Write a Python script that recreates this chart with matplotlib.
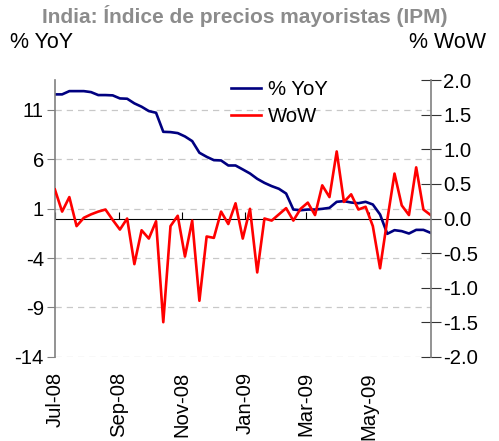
import matplotlib
matplotlib.use("Agg")
import matplotlib.pyplot as plt
import matplotlib.dates as mdates
from matplotlib.lines import Line2D
import pandas as pd

plt.rcParams["font.family"] = ["Liberation Sans", "DejaVu Sans"]
plt.rcParams["axes.unicode_minus"] = False

# weekly observations, Jul-08 .. Jul-09
dates = pd.date_range("2008-07-05", periods=53, freq="7D")

yoy = [12.57, 12.57, 12.9, 12.9, 12.9, 12.8, 12.5, 12.5, 12.47, 12.16,
       12.13, 11.66, 11.32, 10.88, 10.71, 8.78, 8.75, 8.65, 8.31, 7.84,
       6.66, 6.25, 5.91, 5.88, 5.37, 5.37, 4.97, 4.56, 4.02, 3.61,
       3.28, 3.01, 2.53, 0.91, 0.84, 0.91, 0.91, 0.98, 1.08, 1.69,
       1.76, 1.62, 1.55, 1.69, 1.42, 0.41, -1.55, -1.18, -1.28, -1.52,
       -1.15, -1.15, -1.45]

wow = [0.42, 0.10, 0.31, -0.11, 0.01, 0.06, 0.10, 0.13, -0.02, -0.16,
       0.00, -0.66, -0.17, -0.29, -0.04, -1.50, -0.11, 0.04, -0.55, -0.03,
       -1.19, -0.26, -0.28, 0.10, -0.08, 0.22, -0.29, 0.14, -0.78, 0.00,
       -0.03, 0.06, 0.15, -0.03, 0.14, 0.23, 0.05, 0.48, 0.31, 0.97,
       0.24, 0.35, 0.13, 0.17, -0.11, -0.72, -0.02, 0.65, 0.19, 0.05,
       0.74, 0.13, 0.05]

YOY_TICKS = [-14, -9, -4, 1, 6, 11]
YOY_LIM = (-14, 14)
WOW_TICKS = [-2.0, -1.5, -1.0, -0.5, 0.0, 0.5, 1.0, 1.5, 2.0]
WOW_LIM = (-2.0, 2.0)

NAVY = "#000080"
RED = "#ff0000"
GREY = "#808080"
FS = 14.6
LW = 1.9

fig = plt.figure(figsize=(4.99, 4.41), dpi=100)
ax = fig.add_axes([0.110, 0.191, 0.753, 0.627])
ax2 = ax.twinx()

ax.plot(dates, yoy, color=NAVY, lw=LW)
ax2.plot(dates, wow, color=RED, lw=LW)

ax.set_ylim(*YOY_LIM)
ax.set_yticks(YOY_TICKS)
ax.set_yticklabels([str(t) for t in YOY_TICKS])
ax2.set_ylim(*WOW_LIM)
ax2.set_yticks(WOW_TICKS)
ax2.set_yticklabels([f"{t:.1f}" for t in WOW_TICKS])
ax.set_xlim(dates[0], dates[-1])

ax.yaxis.grid(True, color="#c8c8c8", linestyle=(0, (5, 4)), lw=0.9)
ax.set_axisbelow(True)

for a in (ax, ax2):
    a.spines["top"].set_visible(False)
    a.spines["bottom"].set_visible(False)
ax.spines["right"].set_visible(False)
ax.spines["left"].set_color(GREY)
ax.spines["left"].set_linewidth(1.2)
ax2.spines["left"].set_visible(False)
ax2.spines["right"].set_color(GREY)
ax2.spines["right"].set_linewidth(1.2)

ax.tick_params(axis="y", direction="out", length=6, color=GREY, pad=2,
               labelsize=FS)
ax2.tick_params(axis="y", direction="inout", length=14, color="#333333",
                pad=2, labelsize=FS)

# month labels along the bottom, tick marks on the zero line
xticks = pd.date_range(dates[0], periods=6, freq=pd.DateOffset(months=2))
ax.set_xticks(xticks)
ax.xaxis.set_major_formatter(mdates.DateFormatter("%b-%y"))
ax.tick_params(axis="x", length=0, pad=11, labelsize=FS, labelrotation=90)

zero_frac = (0 - YOY_LIM[0]) / (YOY_LIM[1] - YOY_LIM[0])
sec = ax.secondary_xaxis(zero_frac)
sec.set_xticks(list(xticks) + [dates[0] + pd.DateOffset(months=12)])
sec.set_xticklabels([])
sec.spines["bottom"].set_color("black")
sec.spines["bottom"].set_linewidth(1.0)
sec.tick_params(axis="x", direction="out", length=5, color="black")

handles = [Line2D([], [], color=NAVY, lw=LW),
           Line2D([], [], color=RED, lw=LW)]
ax2.legend(handles, ["% YoY", "WoW"], loc="upper left",
           bbox_to_anchor=(231 / 499, 1 - 80 / 441),
           bbox_transform=fig.transFigure, frameon=False, fontsize=FS,
           handlelength=1.5, handletextpad=0.3, labelspacing=0.4,
           borderpad=0, borderaxespad=0)

fig.text(245 / 499, 1 - 16 / 441, "India: Índice de precios mayoristas (IPM)",
         ha="center", va="center", fontsize=15, fontweight="bold",
         color="#8c8c8c")
fig.text(10 / 499, 1 - 42 / 441, "% YoY", ha="left", va="center", fontsize=15.5)
fig.text(486 / 499, 1 - 42 / 441, "% WoW", ha="right", va="center", fontsize=15.5)

fig.savefig("out.png", dpi=100)
